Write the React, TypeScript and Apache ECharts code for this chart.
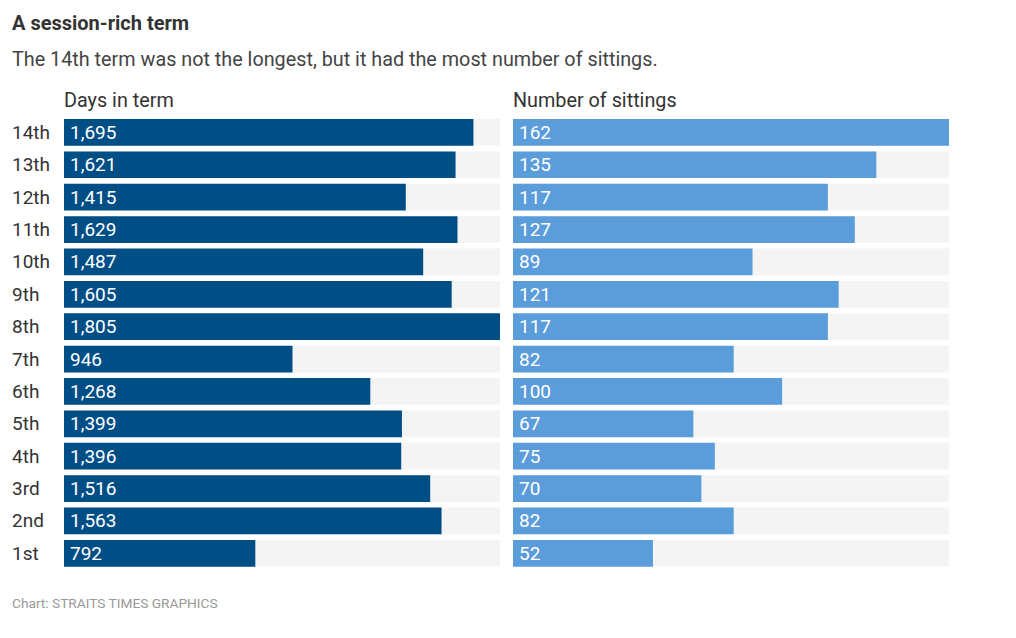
import React, { useEffect, useRef } from "react";
import * as echarts from "echarts";

const terms = ["14th", "13th", "12th", "11th", "10th", "9th", "8th", "7th", "6th", "5th", "4th", "3rd", "2nd", "1st"];
const daysInTerm = [1695, 1621, 1415, 1629, 1487, 1605, 1805, 946, 1268, 1399, 1396, 1516, 1563, 792];
const sittings = [162, 135, 117, 127, 89, 121, 117, 82, 100, 67, 75, 70, 82, 52];

const titleText = "A session-rich term";
const subtitleText = "The 14th term was not the longest, but it had the most number of sittings.";
const leftHeader = "Days in term";
const rightHeader = "Number of sittings";
const footerText = "Chart: STRAITS TIMES GRAPHICS";

const FONT = "Roboto, 'Noto Sans', sans-serif";

export default function App() {
  const ref = useRef<HTMLDivElement>(null);
  useEffect(() => {
    if (!ref.current) return;
    const chart = echarts.init(ref.current, null, { renderer: "svg" });
    const fmt = (v: number) => v.toLocaleString("en-US");
    const gridTop = 108.2;
    const gridBottom = 622 - 561.5;
    chart.setOption({
      animation: false,
      backgroundColor: "#ffffff",
      textStyle: { fontFamily: FONT },
      title: [
        { text: titleText, left: 4, top: 5, padding: 0, textStyle: { fontFamily: FONT, fontSize: 20, fontWeight: "bold", color: "#333333" } },
        { text: subtitleText, left: 4, top: 41, padding: 0, textStyle: { fontFamily: FONT, fontSize: 19.8, fontWeight: "normal", color: "#444444" } },
        { text: leftHeader, left: 56, top: 82, padding: 0, textStyle: { fontFamily: FONT, fontSize: 19.8, fontWeight: "normal", color: "#333333" } },
        { text: rightHeader, left: 505, top: 82, padding: 0, textStyle: { fontFamily: FONT, fontSize: 19.8, fontWeight: "normal", color: "#333333" } },
        { text: footerText, left: 4, top: 588, padding: 0, textStyle: { fontFamily: FONT, fontSize: 13.7, fontWeight: "normal", color: "#999999" } },
      ],
      grid: [
        { left: 56, width: 436, top: gridTop, bottom: gridBottom, containLabel: false },
        { left: 505, width: 436, top: gridTop, bottom: gridBottom, containLabel: false },
      ],
      xAxis: [
        { gridIndex: 0, type: "value", min: 0, max: 1805, show: false },
        { gridIndex: 1, type: "value", min: 0, max: 162, show: false },
      ],
      yAxis: [
        {
          gridIndex: 0,
          type: "category",
          data: terms,
          inverse: true,
          axisLine: { show: false },
          axisTick: { show: false },
          axisLabel: { align: "left", margin: 52, fontFamily: FONT, fontSize: 19, color: "#333333" },
        },
        {
          gridIndex: 1,
          type: "category",
          data: terms,
          inverse: true,
          axisLine: { show: false },
          axisTick: { show: false },
          axisLabel: { show: false },
        },
      ],
      series: [
        {
          type: "bar",
          xAxisIndex: 0,
          yAxisIndex: 0,
          data: daysInTerm,
          barCategoryGap: "17.5%",
          itemStyle: { color: "#004e86" },
          showBackground: true,
          backgroundStyle: { color: "#f4f4f4" },
          label: {
            show: true,
            position: "insideLeft",
            distance: 6,
            color: "#ffffff",
            fontFamily: FONT,
            fontSize: 19,
            formatter: (p: any) => fmt(p.value),
          },
        },
        {
          type: "bar",
          xAxisIndex: 1,
          yAxisIndex: 1,
          data: sittings,
          barCategoryGap: "17.5%",
          itemStyle: { color: "#5b9cdb" },
          showBackground: true,
          backgroundStyle: { color: "#f4f4f4" },
          label: {
            show: true,
            position: "insideLeft",
            distance: 6,
            color: "#ffffff",
            fontFamily: FONT,
            fontSize: 19,
            formatter: (p: any) => fmt(p.value),
          },
        },
      ],
    });
    return () => chart.dispose();
  }, []);
  return <div ref={ref} style={{ width: 1000, height: 622 }} />;
}
